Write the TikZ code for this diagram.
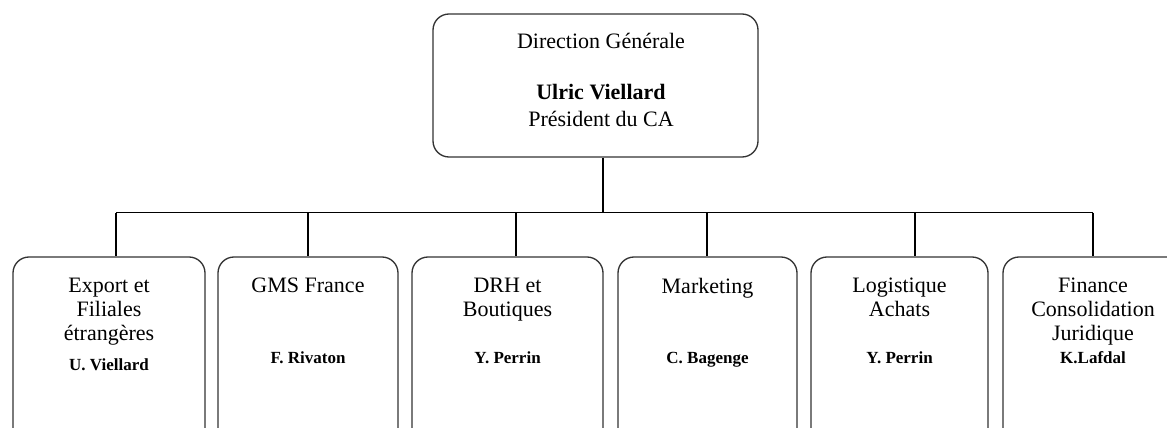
\documentclass[tikz,border=0pt]{standalone}
\usepackage{fontspec}
\setmainfont{Liberation Serif}

\begin{document}
\begin{tikzpicture}[x=0.75pt,y=-0.75pt,
    boite/.style={draw=black!80,line width=1pt,rounded corners=12pt,inner sep=0pt},
    titre/.style={align=center,inner sep=0pt,font=\fontsize{16.5}{18}\selectfont},
    nom/.style={inner sep=0pt,font=\fontsize{12.75}{14}\selectfont\bfseries},
    lien/.style={line width=1pt}]
    \clip (0,0) rectangle (1167,428);

    % Direction
    \node[boite,minimum width=243.75pt,minimum height=107.25pt] (dg) at (595.5,85.5) {};
    \node[titre,anchor=base] (dgtitre) at (601,49) {Direction Générale};
    \node[titre,anchor=base,font=\fontsize{16.5}{18}\selectfont\bfseries] (dgnom) at (601,99) {Ulric Viellard};
    \node[titre,anchor=base] (dgca) at (601,126) {Président du CA};

    % Services
    \foreach \i/\cx/\w/\titre/\resp/\by in {
        1/109/144/{Export et\\Filiales\\étrangères}/{U. Viellard}/370,
        2/308/135/{GMS France}/{F. Rivaton}/363,
        3/507.5/143.25/{DRH et\\Boutiques}/{Y. Perrin}/363,
        4/707.5/134.25/{Marketing}/{C. Bagenge}/363,
        5/899.5/132.75/{Logistique\\Achats}/{Y. Perrin}/363,
        6/1093/135/{Finance\\Consolidation\\Juridique}/{K.Lafdal}/363}
    {
        \node[boite,minimum width=\w pt,minimum height=141pt] (b\i) at (\cx,351) {};
        \node[titre,anchor=north] (t\i) at (\cx,278) {\titre};
        \node[nom,anchor=base] (r\i) at (\cx,\by) {\resp};
    }

    % Liaisons
    \coordinate (bus) at (603,212.7);
    \coordinate (busg) at (116,212.7);
    \coordinate (busd) at (1093,212.7);
    \draw[lien] (dg.south -| bus) -- (bus);
    \draw[lien] (busg) -- (busd);
    \foreach \i/\dx in {1/116,2/308,3/516,4/707,5/915,6/1093}
        \draw[lien] (busg -| \dx,0) -- (b\i.north -| \dx,0);
\end{tikzpicture}
\end{document}
